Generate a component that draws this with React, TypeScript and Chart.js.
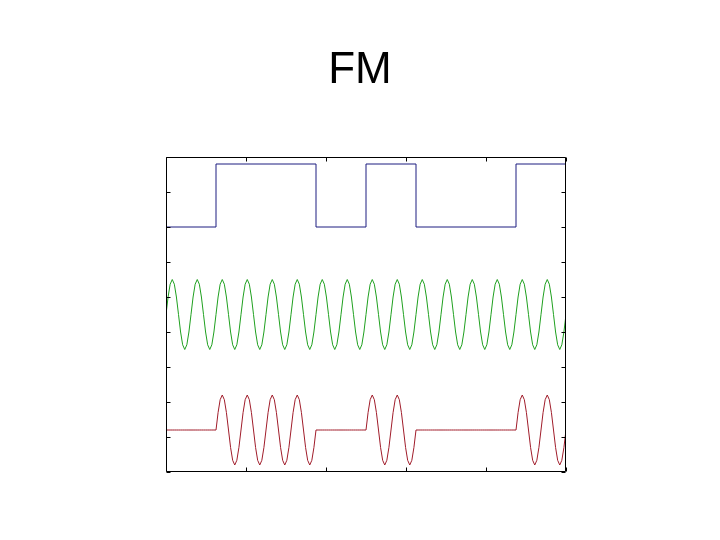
import React, { useEffect, useRef } from "react";
import { Chart, registerables } from "chart.js";

Chart.register(...registerables);

const TITLE = "FM";
// message bits
const BITS = [0, 1, 1, 0, 1, 0, 0, 1];
// one period of the carrier, sampled
const CARRIER_CYCLE = [0, 0.5, 0.866, 1, 0.866, 0.5, 0, -0.5, -0.866, -1, -0.866, -0.5];
const CYCLES_PER_BIT = 2;
const BIT_DURATION = 125;
const X_MAX = 1000;
const X_TICKS = [0, 200, 400, 600, 800, 1000];
const Y_TICKS = [0, 1, 2, 3, 4, 5, 6, 7, 8, 9];
const MSG_LOW = 7;
const MSG_HIGH = 8.8;
const CARRIER_CENTER = 4.5;
const MOD_CENTER = 1.2;

const COLORS = { message: "#1c1c80", carrier: "#1fa01f", modulated: "#a01c2a" };

function buildMessage() {
  const pts = BITS.map((b, i) => ({ x: i * BIT_DURATION, y: b ? MSG_HIGH : MSG_LOW }));
  pts.push({ x: X_MAX, y: BITS[BITS.length - 1] ? MSG_HIGH : MSG_LOW });
  return pts;
}

function buildWave(modulated: boolean, center: number) {
  const n = CARRIER_CYCLE.length;
  const perBit = n * CYCLES_PER_BIT;
  const pts: { x: number; y: number }[] = [];
  BITS.forEach((b, i) => {
    for (let s = 0; s < perBit; s++) {
      const x = i * BIT_DURATION + (s * BIT_DURATION) / perBit;
      const v = CARRIER_CYCLE[s % n];
      pts.push({ x, y: modulated && !b ? center : center + v });
    }
  });
  const lastBit = BITS[BITS.length - 1];
  pts.push({ x: X_MAX, y: modulated && !lastBit ? center : center + CARRIER_CYCLE[0] });
  return pts;
}

const framePlugin = {
  id: "matlabFrame",
  afterDatasetsDraw(chart: any) {
    const { ctx, chartArea: a, scales } = chart;
    const xs = scales.x;
    const ys = scales.y;
    const L = 4;
    ctx.save();
    ctx.strokeStyle = "#000";
    ctx.lineWidth = 1;
    ctx.beginPath();
    const l = Math.round(a.left) + 0.5;
    const r = Math.round(a.right) - 0.5;
    const t = Math.round(a.top) + 0.5;
    const b = Math.round(a.bottom) - 0.5;
    ctx.rect(l, t, r - l, b - t);
    X_TICKS.forEach((v) => {
      const px = Math.round(xs.getPixelForValue(v)) + 0.5;
      ctx.moveTo(px, t);
      ctx.lineTo(px, t + L);
      ctx.moveTo(px, b);
      ctx.lineTo(px, b - L);
    });
    Y_TICKS.forEach((v) => {
      const py = Math.round(ys.getPixelForValue(v)) + 0.5;
      ctx.moveTo(l, py);
      ctx.lineTo(l + L, py);
      ctx.moveTo(r, py);
      ctx.lineTo(r - L, py);
    });
    ctx.stroke();
    ctx.fillStyle = "#000";
    ctx.font = '44px "Liberation Sans", Arial, sans-serif';
    ctx.textAlign = "center";
    ctx.textBaseline = "alphabetic";
    ctx.fillText(TITLE, chart.width / 2, 83);
    ctx.restore();
  },
};

export default function App() {
  const ref = useRef<HTMLCanvasElement | null>(null);
  useEffect(() => {
    if (!ref.current) return;
    const chart = new Chart(ref.current, {
      type: "line",
      data: {
        datasets: [
          {
            label: "message",
            data: buildMessage(),
            borderColor: COLORS.message,
            borderWidth: 1,
            pointRadius: 0,
            stepped: "before",
          },
          {
            label: "carrier",
            data: buildWave(false, CARRIER_CENTER),
            borderColor: COLORS.carrier,
            borderWidth: 1,
            pointRadius: 0,
          },
          {
            label: "modulated",
            data: buildWave(true, MOD_CENTER),
            borderColor: COLORS.modulated,
            borderWidth: 1,
            pointRadius: 0,
          },
        ],
      },
      options: {
        animation: false,
        responsive: true,
        maintainAspectRatio: false,
        layout: { padding: { left: 166, right: 154, top: 157, bottom: 68 } },
        plugins: { legend: { display: false }, title: { display: false }, tooltip: { enabled: false } },
        scales: {
          x: { type: "linear", min: 0, max: X_MAX, display: false },
          y: { type: "linear", min: 0, max: 9, display: false },
        },
      },
      plugins: [framePlugin],
    });
    return () => chart.destroy();
  }, []);
  return (
    <div style={{ position: "absolute", left: 0, top: 0, width: 720, height: 540, background: "#fff" }}>
      <canvas ref={ref} />
    </div>
  );
}
